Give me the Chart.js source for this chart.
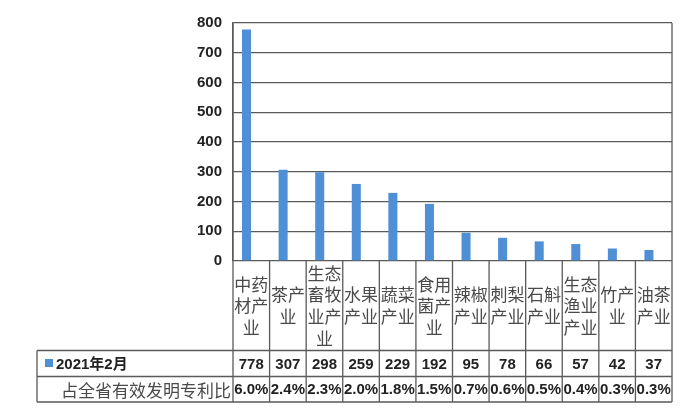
<!DOCTYPE html>
<html>
<head>
<meta charset="utf-8">
<script src="https://cdn.jsdelivr.net/npm/chart.js@4/dist/chart.umd.min.js"></script>
<style>
  html, body { margin: 0; padding: 0; background: #fff; }
  canvas { display: block; }
</style>
</head>
<body>
<canvas id="chart" width="695" height="418"></canvas>
<script>
// categories, wrapped the same way as in the table
var categories = [
  ['中药', '材产', '业'],
  ['茶产', '业'],
  ['生态', '畜牧', '业产', '业'],
  ['水果', '产业'],
  ['蔬菜', '产业'],
  ['食用', '菌产', '业'],
  ['辣椒', '产业'],
  ['刺梨', '产业'],
  ['石斛', '产业'],
  ['生态', '渔业', '产业'],
  ['竹产', '业'],
  ['油茶', '产业']
];
var patents = [778, 307, 298, 259, 229, 192, 95, 78, 66, 57, 42, 37];
var shares = ['6.0%', '2.4%', '2.3%', '2.0%', '1.8%', '1.5%', '0.7%', '0.6%', '0.5%', '0.4%', '0.3%', '0.3%'];
var seriesName = '2021年2月';
var shareRowName = '占全省有效发明专利比';
var yMax = 800;
var yStep = 100;

var LINE = '#5a5a5a';
var BLUE = '#4f8fd6';

// draws the data table under the plot, aligned on the x scale
var tablePlugin = {
  id: 'dataTable',
  afterDraw: function (chart) {
    var ctx = chart.ctx;
    var area = chart.chartArea;
    var x = chart.scales.x;
    var left = area.left, right = area.right;
    var tableLeft = 37;
    var catBottom = 350.5, row1Bottom = 376.5, tableBottom = 402;
    var n = categories.length;
    var step = (right - left) / n;

    ctx.save();
    ctx.strokeStyle = LINE;
    ctx.lineWidth = 1.3;
    ctx.beginPath();
    // horizontal lines
    [catBottom, row1Bottom, tableBottom].forEach(function (y) {
      ctx.moveTo(tableLeft, y);
      ctx.lineTo(right, y);
    });
    // left table edge
    ctx.moveTo(tableLeft, catBottom);
    ctx.lineTo(tableLeft, tableBottom);
    // axis line continued, right border
    ctx.moveTo(left, area.top);
    ctx.lineTo(left, tableBottom);
    ctx.moveTo(right, area.top);
    ctx.lineTo(right, tableBottom);
    // category separators
    for (var i = 1; i < n; i++) {
      var xs = left + step * i;
      ctx.moveTo(xs, area.bottom);
      ctx.lineTo(xs, tableBottom);
    }
    ctx.stroke();

    // category labels, centred vertically in their cell
    var lh = 21.7;
    ctx.fillStyle = '#4a4a4a';
    ctx.font = '17px "Noto Sans CJK SC"';
    ctx.textAlign = 'center';
    ctx.textBaseline = 'middle';
    categories.forEach(function (lines, i) {
      var cx = x.getPixelForValue(i);
      var mid = (area.bottom + catBottom) / 2;
      var y0 = mid - (lines.length - 1) * lh / 2;
      lines.forEach(function (t, k) {
        ctx.fillText(t, cx, y0 + k * lh);
      });
    });

    // values and shares
    ctx.fillStyle = '#222';
    ctx.font = 'bold 15px "Liberation Sans"';
    patents.forEach(function (v, i) {
      ctx.fillText(String(v), x.getPixelForValue(i), (catBottom + row1Bottom) / 2 + 1);
    });
    shares.forEach(function (s, i) {
      ctx.fillText(s, x.getPixelForValue(i), (row1Bottom + tableBottom) / 2 + 1);
    });

    // row headers
    ctx.fillStyle = BLUE;
    ctx.fillRect(45, 359, 8, 8);
    ctx.fillStyle = '#222';
    ctx.textAlign = 'left';
    ctx.font = 'bold 15px "Liberation Sans", "Noto Sans CJK SC"';
    ctx.fillText(seriesName, 56, (catBottom + row1Bottom) / 2 + 1);
    ctx.fillStyle = '#4a4a4a';
    ctx.textAlign = 'right';
    ctx.font = '17px "Noto Sans CJK SC"';
    ctx.fillText(shareRowName, left - 2, (row1Bottom + tableBottom) / 2 + 1);
    ctx.restore();
  }
};

new Chart(document.getElementById('chart'), {
  type: 'bar',
  data: {
    labels: categories,
    datasets: [
      { label: seriesName, data: patents, backgroundColor: BLUE, barPercentage: 0.95, categoryPercentage: 0.52 },
      // empty second slot, so the bars sit left of the centre like in the original
      { label: '', data: patents.map(function () { return null; }), backgroundColor: 'rgba(0,0,0,0)', barPercentage: 0.95, categoryPercentage: 0.52 }
    ]
  },
  options: {
    responsive: false,
    animation: false,
    layout: { padding: { left: 0, top: 23, right: 23, bottom: 157 } },
    plugins: {
      legend: { display: false },
      tooltip: { enabled: false }
    },
    scales: {
      x: { display: false },
      y: {
        min: 0,
        max: yMax,
        afterFit: function (scale) { scale.width = 233; },
        ticks: {
          stepSize: yStep,
          padding: 11,
          color: '#222',
          font: { family: '"Liberation Sans"', size: 15, weight: 'bold' }
        },
        grid: { color: LINE, lineWidth: 1.3, drawTicks: false },
        border: { display: true, color: LINE, width: 1.3 }
      }
    }
  },
  plugins: [tablePlugin]
});
</script>
</body>
</html>
